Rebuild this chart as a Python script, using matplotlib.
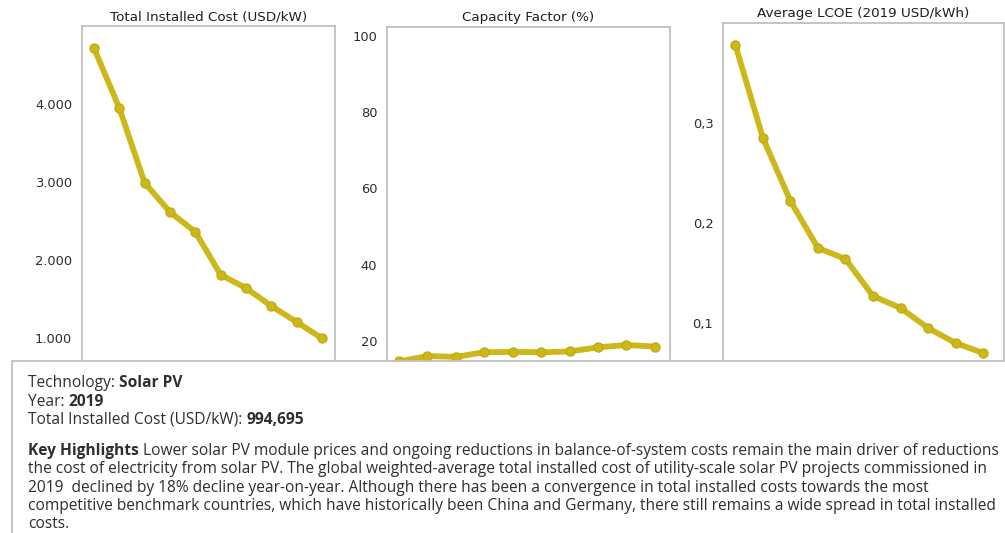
import matplotlib
matplotlib.use("Agg")
import matplotlib.pyplot as plt
from matplotlib.patches import Rectangle

years = [2010, 2011, 2012, 2013, 2014, 2015, 2016, 2017, 2018, 2019]
installed_cost = [4718, 3950, 2990, 2615, 2360, 1810, 1640, 1410, 1205, 995]
capacity_factor = [14.6, 16.0, 15.8, 17.0, 17.1, 17.0, 17.2, 18.3, 18.9, 18.5]
lcoe = [0.378, 0.285, 0.222, 0.175, 0.164, 0.127, 0.115, 0.095, 0.080, 0.070]

titles = ["Total Installed Cost (USD/kW)", "Capacity Factor (%)", "Average LCOE (2019 USD/kWh)"]
cost_ticks = [1000, 2000, 3000, 4000]
cost_labels = ["1.000", "2.000", "3.000", "4.000"]
cf_ticks = [20, 40, 60, 80, 100]
cf_labels = ["20", "40", "60", "80", "100"]
lcoe_ticks = [0.1, 0.2, 0.3]
lcoe_labels = ["0,1", "0,2", "0,3"]

# tooltip lines: list of (text, bold) runs
info_lines = [
    [("Technology: ", False), ("Solar PV", True)],
    [("Year: ", False), ("2019", True)],
    [("Total Installed Cost (USD/kW): ", False), ("994,695", True)],
]
highlight_lines = [
    [("Key Highlights", True), (" Lower solar PV module prices and ongoing reductions in balance-of-system costs remain the main driver of reductions", False)],
    [("the cost of electricity from solar PV. The global weighted-average total installed cost of utility-scale solar PV projects commissioned in", False)],
    [("2019  declined by 18% decline year-on-year. Although there has been a convergence in total installed costs towards the most", False)],
    [("competitive benchmark countries, which have historically been China and Germany, there still remains a wide spread in total installed", False)],
    [("costs.", False)],
]

W, H = 1005, 533
fig = plt.figure(figsize=(W / 100, H / 100), dpi=100)
fig.patch.set_facecolor("white")

line_color = "#CDB81C"
edge_color = "#C2AC12"
text_color = "#2E2E2E"


def px_axes(x0, x1, ytop, ybot):
    return fig.add_axes([x0 / W, 1 - ybot / H, (x1 - x0) / W, (ybot - ytop) / H])


panels = [
    (px_axes(82, 335, 26, 416), installed_cost, (0, 5000), (2009.53, 2019.51), cost_ticks, cost_labels, titles[0]),
    (px_axes(387, 670, 27, 417), capacity_factor, (0, 102.4), (2009.58, 2019.53), cf_ticks, cf_labels, titles[1]),
    (px_axes(723, 1004, 23, 423), lcoe, (0, 0.4), (2009.55, 2019.76), lcoe_ticks, lcoe_labels, titles[2]),
]

for ax, vals, ylim, xlim, ticks, labels, title in panels:
    ax.plot(years, vals, color=line_color, lw=4.2, marker="o", ms=6.5,
            mfc=line_color, mec=edge_color, mew=1, solid_capstyle="round")
    ax.set_ylim(*ylim)
    ax.set_xlim(*xlim)
    ax.set_xticks([])
    ax.set_yticks(ticks)
    ax.set_yticklabels(labels, family="DejaVu Sans")
    ax.tick_params(axis="y", length=0, pad=7, labelsize=9.4, labelcolor=text_color)
    for s in ax.spines.values():
        s.set_color("#BBBBBB")
        s.set_linewidth(1.2)
    ax.set_title(title, fontsize=9.7, family="DejaVu Sans", color="#1E1E1E", pad=4)

# tooltip box overlaid on the bottom part of the charts
box = Rectangle((12 / W, -0.05), 1.1, 1 - 361 / H + 0.05, transform=fig.transFigure,
                facecolor="white", edgecolor="#C0C0C0", linewidth=1.3, zorder=5)
fig.patches.append(box)

fig.canvas.draw()
renderer = fig.canvas.get_renderer()
font = "Open Sans"


def write_runs(runs, y_px, size):
    x = 28 / W
    made = []
    for txt, bold in runs:
        t = fig.text(x, 1 - y_px / H, txt, fontsize=size, family=font,
                     fontweight="bold" if bold else "normal", fontstretch="normal",
                     color=text_color, va="center", ha="left", zorder=6)
        bb = t.get_window_extent(renderer=renderer)
        x = bb.x1 / W
        made.append(t)
    return made, x * W


# size the tooltip font so the first highlight line ends near the right edge, as in the reference
probe, right = write_runs(highlight_lines[0], 451, 10)
for t in probe:
    t.remove()
fsize = 10 * (1000 - 28) / (right - 28)

for i, runs in enumerate(info_lines):
    write_runs(runs, 383 + i * 18.5, fsize)
for i, runs in enumerate(highlight_lines):
    write_runs(runs, 451 + i * 18.3, fsize)

fig.savefig("out.png", dpi=100)
